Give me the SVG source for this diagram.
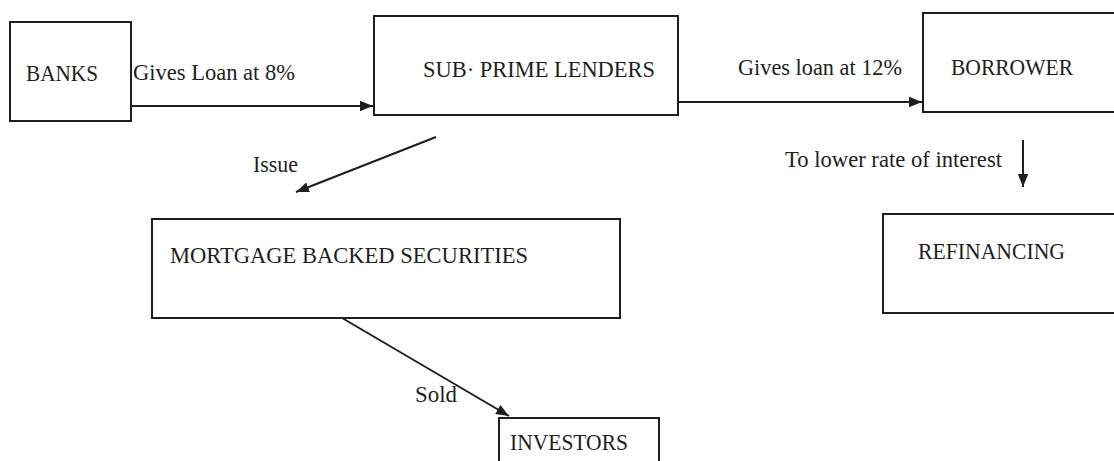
<svg xmlns="http://www.w3.org/2000/svg" width="1114" height="461" viewBox="0 0 1114 461">
  <style>
    .box { fill: #ffffff; stroke: #1e1e1e; stroke-width: 2; }
    .lbl { font-family: "Liberation Serif", "Times New Roman", serif; font-size: 23px; fill: #1e1e1e; }
    .edge { stroke: #1e1e1e; stroke-width: 2; fill: none; marker-end: url(#arrow); }
  </style>
  <defs>
    <marker id="arrow" viewBox="0 0 10 10" refX="10" refY="5" markerWidth="6.5" markerHeight="6.5" markerUnits="strokeWidth" orient="auto">
      <path d="M0,1 L10,5 L0,9 z" fill="#1e1e1e"/>
    </marker>
  </defs>
  <rect x="0" y="0" width="1114" height="461" fill="#ffffff"/>

  <g id="connectors">
    <line class="edge" x1="131" y1="106" x2="373" y2="106"/>
    <text class="lbl" x="133" y="80" textLength="162" lengthAdjust="spacingAndGlyphs">Gives Loan at 8%</text>
    <line class="edge" x1="678" y1="102" x2="922" y2="102"/>
    <text class="lbl" x="738" y="75" textLength="164" lengthAdjust="spacingAndGlyphs">Gives loan at 12%</text>
    <line class="edge" x1="436" y1="137" x2="296" y2="192"/>
    <text class="lbl" x="253" y="172" textLength="45" lengthAdjust="spacingAndGlyphs">Issue</text>
    <line class="edge" x1="337" y1="315" x2="509" y2="416"/>
    <text class="lbl" x="415" y="402" textLength="42" lengthAdjust="spacingAndGlyphs">Sold</text>
    <line class="edge" x1="1023" y1="140" x2="1023" y2="187"/>
    <text class="lbl" x="785" y="167" textLength="217" lengthAdjust="spacingAndGlyphs">To lower rate of interest</text>
  </g>

  <g id="banks">
    <rect class="box" x="10" y="22" width="121" height="99"/>
    <text class="lbl" x="26" y="81" textLength="72" lengthAdjust="spacingAndGlyphs">BANKS</text>
  </g>
  <g id="subprime">
    <rect class="box" x="374" y="16" width="304" height="99"/>
    <text class="lbl" x="423" y="77" textLength="232" lengthAdjust="spacingAndGlyphs">SUB· PRIME LENDERS</text>
  </g>
  <g id="borrower">
    <rect class="box" x="923" y="13" width="200" height="99"/>
    <text class="lbl" x="951" y="75" textLength="122" lengthAdjust="spacingAndGlyphs">BORROWER</text>
  </g>
  <g id="mbs">
    <rect class="box" x="152" y="219" width="468" height="99"/>
    <text class="lbl" x="170" y="263" textLength="358" lengthAdjust="spacingAndGlyphs">MORTGAGE BACKED SECURITIES</text>
  </g>
  <g id="refinancing">
    <rect class="box" x="883" y="214" width="240" height="99"/>
    <text class="lbl" x="918" y="259" textLength="147" lengthAdjust="spacingAndGlyphs">REFINANCING</text>
  </g>
  <g id="investors">
    <rect class="box" x="499" y="418" width="160" height="60"/>
    <text class="lbl" x="510" y="450" textLength="118" lengthAdjust="spacingAndGlyphs">INVESTORS</text>
  </g>
</svg>
